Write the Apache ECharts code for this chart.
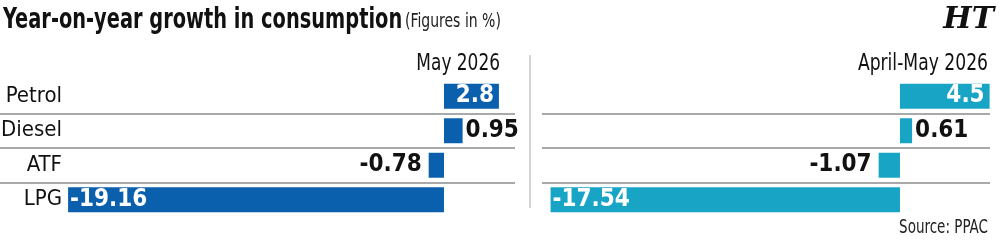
<!DOCTYPE html>
<html>
<head>
<meta charset="utf-8">
<script src="https://cdn.jsdelivr.net/npm/echarts@6/dist/echarts.min.js"></script>
<style>
  html, body { margin: 0; padding: 0; background: #fff; }
  #main { width: 1000px; height: 245px; }
</style>
</head>
<body>
<div id="main"></div>
<script>
    // fuel categories, top to bottom
    const categories = ['Petrol', 'Diesel', 'ATF', 'LPG'];
    // y-o-y growth, %
    const may2026 = [2.8, 0.95, -0.78, -19.16];
    const aprMay2026 = [4.5, 0.61, -1.07, -17.54];
    const panelTitles = ['May 2026', 'April-May 2026'];

    const FONT = '"DejaVu Sans Condensed", "DejaVu Sans", sans-serif';
    const BLUE = '#0b60ae';
    const TEAL = '#18a4c5';

    // long bars get the number inside, short ones next to the bar
    function labelFor(v) {
        let lbl = {show: true, fontFamily: FONT, fontWeight: 'bold', fontSize: 24,
            formatter: p => String(p.value)};
        if (v >= 2) {
            lbl.position = 'insideRight'; lbl.color = '#fff'; lbl.distance = 5;
        } else if (v >= 0) {
            lbl.position = 'right'; lbl.color = '#111'; lbl.distance = 3;
        } else if (v > -2) {
            lbl.position = 'left'; lbl.color = '#111'; lbl.distance = 7;
        } else {
            lbl.position = 'insideLeft'; lbl.color = '#fff'; lbl.distance = 2;
        }
        return lbl;
    }
    function buildData(values) {
        return values.map(v => ({value: v, label: labelFor(v)}));
    }

    // squeezed text, the original uses a very narrow face
    function narrowText(str, x, y, size, weight, align, sx, color) {
        return {
            type: 'text', x: x, y: y, scaleX: sx, silent: true,
            style: {
                text: str, x: 0, y: 0, fill: color || '#111',
                font: weight + ' ' + size + 'px ' + FONT,
                align: align, verticalAlign: 'middle'
            }
        };
    }

    const yBase = {
        type: 'category',
        data: categories,
        inverse: true,
        axisLine: {show: false},
        axisTick: {show: false},
        splitLine: {
            show: true, showMinLine: false, showMaxLine: false,
            lineStyle: {color: '#8c8c8c', width: 1.5}
        }
    };

    var myChart = echarts.init(document.getElementById('main'));
    myChart.setOption({
        animation: false,
        title: [
            {
                text: 'HT', right: 6, top: 5, padding: 0,
                textStyle: {fontFamily: '"DejaVu Serif", serif', fontStyle: 'italic', fontWeight: 'bold', fontSize: 30, color: '#111'}
            }
        ],
        graphic: [
            narrowText('Year-on-year growth in consumption', 3, 21, 28, 'bold', 'left', 0.77),
            narrowText('(Figures in %)', 405, 22, 19, 'normal', 'left', 0.82, '#222'),
            narrowText(panelTitles[0], 500, 64, 23, 'normal', 'right', 0.82),
            narrowText(panelTitles[1], 988, 64, 23, 'normal', 'right', 0.83),
            narrowText('Source: PPAC', 988, 228, 19, 'normal', 'right', 0.79, '#222'),
            {type: 'rect', shape: {x: 529, y: 55, width: 2, height: 153}, style: {fill: '#d4d4d4'}, silent: true}
        ],
        grid: [
            {left: 0, right: 485, top: 79, height: 138, outerBoundsMode: 'none'},
            {left: 542, right: 10, top: 79, height: 138, outerBoundsMode: 'none'}
        ],
        xAxis: [
            {gridIndex: 0, type: 'value', min: -22.63, max: 3.62, show: false, splitLine: {show: false}},
            {gridIndex: 1, type: 'value', min: -17.97, max: 4.52, show: false, splitLine: {show: false}}
        ],
        yAxis: [
            Object.assign({}, yBase, {
                gridIndex: 0,
                axisLabel: {margin: -62, fontFamily: FONT, fontSize: 22, color: '#111'}
            }),
            Object.assign({}, yBase, {gridIndex: 1, axisLabel: {show: false}})
        ],
        series: [
            {
                name: panelTitles[0], type: 'bar', xAxisIndex: 0, yAxisIndex: 0,
                barWidth: 25, itemStyle: {color: BLUE},
                data: buildData(may2026)
            },
            {
                name: panelTitles[1], type: 'bar', xAxisIndex: 1, yAxisIndex: 1,
                barWidth: 25, itemStyle: {color: TEAL},
                data: buildData(aprMay2026)
            }
        ]
    });
    window.addEventListener('resize', function () {
        myChart.resize();
    });
</script>
</body>
</html>
